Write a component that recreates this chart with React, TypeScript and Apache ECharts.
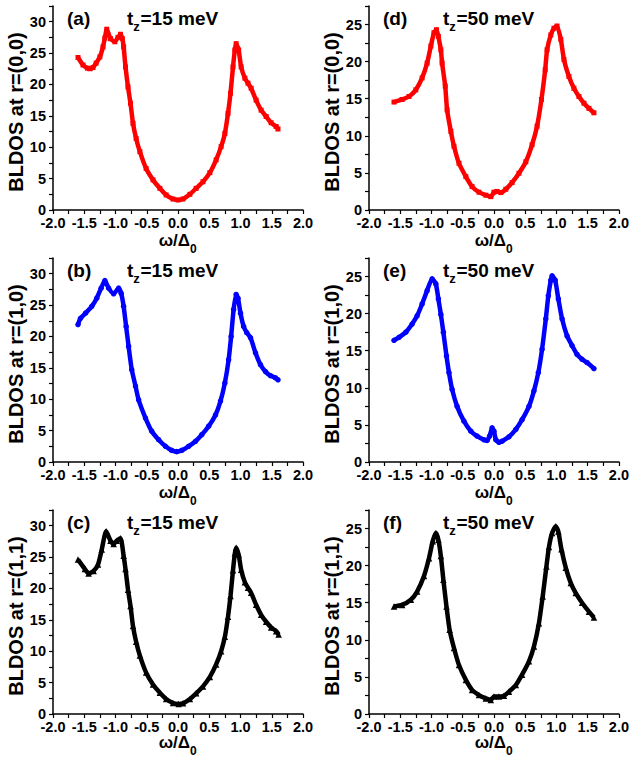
import React, { useEffect, useRef } from "react";
import * as echarts from "echarts";

// (a) r=(0,0), tz=15 meV
const panelA: [number, number][] = [
  [-1.6, 24.3], [-1.52, 23.1], [-1.45, 22.6], [-1.41, 22.5], [-1.36, 22.7], [-1.31, 23.4],
  [-1.25, 24.4], [-1.2, 26.0], [-1.17, 27.4], [-1.14, 28.8], [-1.08, 27.3], [-1.01, 26.8],
  [-0.96, 27.5], [-0.92, 28.0], [-0.89, 27.3], [-0.87, 26.0], [-0.84, 22.8], [-0.8, 19.6],
  [-0.76, 17.0], [-0.72, 13.8], [-0.67, 11.4], [-0.61, 9.3], [-0.51, 6.6], [-0.4, 4.8],
  [-0.29, 3.45], [-0.19, 2.4], [-0.08, 1.75], [0, 1.6], [0.08, 1.75], [0.19, 2.5],
  [0.29, 3.45], [0.4, 4.5], [0.51, 5.95], [0.61, 8.0], [0.69, 10.1], [0.75, 12.2],
  [0.8, 15.4], [0.84, 18.6], [0.88, 22.8], [0.91, 25.5], [0.93, 26.5], [0.97, 25.5],
  [1.01, 22.8], [1.07, 21.0], [1.12, 20.2], [1.17, 19.4], [1.25, 17.5], [1.33, 15.9],
  [1.41, 14.9], [1.49, 13.9], [1.57, 13.3], [1.6, 12.9],
];

// (b) r=(1,0), tz=15 meV
const panelB: [number, number][] = [
  [-1.6, 21.9], [-1.56, 22.9], [-1.48, 23.7], [-1.38, 24.8], [-1.3, 26.1], [-1.23, 27.7],
  [-1.17, 28.9], [-1.11, 27.7], [-1.03, 26.8], [-0.95, 27.7], [-0.91, 26.9], [-0.87, 24.8],
  [-0.83, 21.6], [-0.79, 18.4], [-0.74, 14.7], [-0.68, 12.1], [-0.63, 9.9], [-0.52, 7.0],
  [-0.42, 4.9], [-0.31, 3.55], [-0.2, 2.5], [-0.1, 1.85], [-0.02, 1.65], [0.06, 1.85],
  [0.17, 2.5], [0.28, 3.3], [0.38, 4.35], [0.49, 5.7], [0.6, 7.5], [0.68, 9.7],
  [0.75, 12.6], [0.81, 16.3], [0.85, 20.0], [0.89, 24.3], [0.93, 26.7], [0.96, 26.1],
  [1.0, 23.7], [1.05, 21.6], [1.1, 20.6], [1.16, 19.8], [1.24, 17.4], [1.32, 15.5],
  [1.4, 14.4], [1.48, 13.75], [1.56, 13.4], [1.6, 13.1],
];

// (c) r=(1,1), tz=15 meV
const panelC: [number, number][] = [
  [-1.6, 24.6], [-1.49, 23.1], [-1.43, 22.4], [-1.35, 22.8], [-1.28, 23.8], [-1.22, 26.2],
  [-1.15, 29.1], [-1.08, 27.6], [-1.03, 27.1], [-0.98, 27.6], [-0.92, 28.0], [-0.87, 25.2],
  [-0.84, 23.1], [-0.8, 19.8], [-0.76, 17.2], [-0.72, 14.0], [-0.67, 11.5], [-0.61, 9.3],
  [-0.51, 6.6], [-0.4, 4.7], [-0.29, 3.4], [-0.19, 2.4], [-0.08, 1.75], [0.01, 1.6],
  [0.08, 1.7], [0.19, 2.4], [0.29, 3.3], [0.4, 4.4], [0.51, 5.9], [0.61, 7.9],
  [0.69, 10.0], [0.75, 12.3], [0.8, 15.5], [0.84, 18.8], [0.88, 22.9], [0.91, 25.6],
  [0.93, 26.5], [0.97, 25.4], [1.01, 23.0], [1.07, 21.0], [1.12, 20.1], [1.17, 19.3],
  [1.25, 17.4], [1.33, 15.8], [1.41, 14.7], [1.49, 13.8], [1.57, 13.2], [1.61, 12.65],
];

// (d) r=(0,0), tz=50 meV
const panelD: [number, number][] = [
  [-1.6, 14.55], [-1.47, 14.9], [-1.36, 15.3], [-1.25, 16.2], [-1.15, 17.8], [-1.07, 19.8],
  [-1.01, 22.1], [-0.96, 23.9], [-0.92, 24.3], [-0.89, 23.4], [-0.85, 21.6], [-0.83, 19.8],
  [-0.78, 16.7], [-0.75, 13.5], [-0.69, 10.6], [-0.64, 8.6], [-0.56, 6.3], [-0.45, 4.5],
  [-0.35, 3.15], [-0.24, 2.4], [-0.13, 2.0], [-0.05, 1.8], [0, 2.4], [0.05, 2.5],
  [0.11, 2.35], [0.19, 2.8], [0.29, 3.7], [0.4, 4.95], [0.51, 6.5], [0.61, 8.8],
  [0.69, 11.3], [0.76, 14.9], [0.82, 18.9], [0.85, 21.6], [0.91, 23.6], [0.96, 24.5],
  [1.01, 24.8], [1.07, 23.0], [1.12, 20.3], [1.2, 18.0], [1.28, 16.4], [1.36, 15.3],
  [1.44, 14.4], [1.52, 13.7], [1.6, 13.1],
];

// (e) r=(1,0), tz=50 meV
const panelE: [number, number][] = [
  [-1.6, 16.4], [-1.52, 16.8], [-1.41, 17.5], [-1.31, 18.6], [-1.23, 19.7], [-1.15, 21.3],
  [-1.07, 23.1], [-0.99, 24.7], [-0.93, 24.0], [-0.89, 22.0], [-0.85, 19.9], [-0.81, 17.5],
  [-0.76, 14.3], [-0.72, 12.05], [-0.67, 9.8], [-0.59, 7.5], [-0.48, 5.5], [-0.37, 4.15],
  [-0.27, 3.5], [-0.16, 3.0], [-0.11, 2.9], [-0.07, 3.5], [-0.03, 4.6], [0, 4.15],
  [0.03, 3.0], [0.08, 2.65], [0.13, 2.8], [0.24, 3.4], [0.35, 4.4], [0.45, 5.7],
  [0.56, 7.5], [0.64, 9.6], [0.71, 12.05], [0.77, 15.2], [0.83, 19.3], [0.87, 22.4],
  [0.91, 24.5], [0.93, 25.1], [0.98, 24.5], [1.03, 22.0], [1.09, 19.3], [1.17, 17.0],
  [1.25, 15.7], [1.33, 14.5], [1.41, 13.85], [1.49, 13.4], [1.6, 12.6],
];

// (f) r=(1,1), tz=50 meV
const panelF: [number, number][] = [
  [-1.6, 14.5], [-1.47, 14.7], [-1.33, 15.4], [-1.23, 16.5], [-1.12, 18.6], [-1.04, 21.0],
  [-0.98, 23.3], [-0.93, 24.4], [-0.89, 23.5], [-0.85, 21.3], [-0.81, 18.1], [-0.76, 14.5],
  [-0.71, 11.35], [-0.64, 8.9], [-0.56, 6.6], [-0.45, 4.6], [-0.35, 3.25], [-0.24, 2.55],
  [-0.13, 2.1], [-0.05, 1.9], [0, 2.35], [0.08, 2.35], [0.16, 2.45], [0.24, 3.0],
  [0.35, 3.9], [0.45, 5.3], [0.56, 7.1], [0.64, 9.1], [0.72, 12.25], [0.78, 15.85],
  [0.84, 19.9], [0.88, 22.5], [0.93, 24.4], [0.99, 25.3], [1.03, 24.6], [1.08, 22.2],
  [1.15, 19.7], [1.23, 17.65], [1.31, 16.3], [1.41, 15.0], [1.52, 13.8], [1.6, 13.0],
];

const panelData = [panelA, panelB, panelC, panelD, panelE, panelF];
const panelTags = ["(a)", "(b)", "(c)", "(d)", "(e)", "(f)"];
const yNames = [
  "BLDOS at r=(0,0)", "BLDOS at r=(1,0)", "BLDOS at r=(1,1)",
  "BLDOS at r=(0,0)", "BLDOS at r=(1,0)", "BLDOS at r=(1,1)",
];
const tzTexts = ["=15 meV", "=15 meV", "=15 meV", "=50 meV", "=50 meV", "=50 meV"];
const yMaxes = [32.5, 32.5, 32.5, 27.5, 27.5, 27.5];
const colors = ["#ff0000", "#0000ff", "#000000", "#ff0000", "#0000ff", "#000000"];
const symbols = ["rect", "circle", "triangle", "rect", "circle", "triangle"];
const symbolSizes = [5, 5.5, 6.5, 5, 5.5, 6.5];

const FONT = 'Arial, "Liberation Sans", Helvetica, sans-serif';

export default function App() {
  const ref = useRef<HTMLDivElement>(null);
  useEffect(() => {
    document.body.style.margin = "0";
    if (!ref.current) return;
    const chart = echarts.init(ref.current, null, { renderer: "svg" });

    const colLeft = [53, 369];
    const rowTop = [6, 258, 510];
    const gw = 250;
    const gh = 204;
    const xNameOffset = [30, 30, 28];

    const grids: any[] = [];
    const xAxes: any[] = [];
    const yAxes: any[] = [];
    const series: any[] = [];
    const graphics: any[] = [];

    for (let i = 0; i < 6; i++) {
      const col = i < 3 ? 0 : 1;
      const row = i % 3;
      const gl = colLeft[col];
      const gt = rowTop[row];
      grids.push({ left: gl, top: gt, width: gw, height: gh, containLabel: false });
      xAxes.push({
        gridIndex: i,
        type: "value",
        min: -2,
        max: 2,
        interval: 0.25,
        axisLine: { show: true, onZero: false, lineStyle: { color: "#000", width: 1.5 } },
        axisTick: { show: true, length: 4, lineStyle: { color: "#000", width: 1.2 } },
        axisLabel: {
          margin: 5,
          fontSize: 14.5,
          fontWeight: "bold",
          fontFamily: FONT,
          color: "#000",
          formatter: (v: number) =>
            Math.abs(v * 2 - Math.round(v * 2)) < 1e-9 ? v.toFixed(1) : "",
        },
        splitLine: { show: false },
      });
      yAxes.push({
        gridIndex: i,
        type: "value",
        min: 0,
        max: yMaxes[i],
        interval: 2.5,
        axisLine: { show: true, onZero: false, lineStyle: { color: "#000", width: 1.5 } },
        axisTick: { show: true, length: 4, lineStyle: { color: "#000", width: 1.2 } },
        axisLabel: {
          margin: 7,
          fontSize: 14.5,
          fontWeight: "bold",
          fontFamily: FONT,
          color: "#000",
          formatter: (v: number) => (Math.abs(v % 5) < 1e-9 ? String(v) : ""),
        },
        splitLine: { show: false },
      });
      series.push({
        type: "line",
        xAxisIndex: i,
        yAxisIndex: i,
        data: panelData[i],
        smooth: 0.2,
        showSymbol: true,
        showAllSymbol: true,
        symbol: symbols[i],
        symbolSize: symbolSizes[i],
        lineStyle: { color: colors[i], width: 4.5 },
        itemStyle: { color: colors[i] },
        silent: true,
        emphasis: { disabled: true },
      });

      // panel tag
      graphics.push({
        type: "text",
        x: gl + 14,
        y: gt + 12,
        style: {
          text: panelTags[i],
          fontSize: 19,
          fontWeight: "bold",
          fontFamily: FONT,
          fill: "#000",
          align: "left",
          verticalAlign: "middle",
        },
      });
      // t_z=.. meV
      const tx = gl + 74;
      graphics.push({
        type: "text",
        x: tx,
        y: gt + 12,
        style: { text: "t", fontSize: 19, fontWeight: "bold", fontFamily: FONT, fill: "#000", align: "left", verticalAlign: "middle" },
      });
      graphics.push({
        type: "text",
        x: tx + 6.3,
        y: gt + 20,
        style: { text: "z", fontSize: 13, fontWeight: "bold", fontFamily: FONT, fill: "#000", align: "left", verticalAlign: "middle" },
      });
      graphics.push({
        type: "text",
        x: tx + 13.5,
        y: gt + 12,
        style: { text: tzTexts[i], fontSize: 19, fontWeight: "bold", fontFamily: FONT, fill: "#000", align: "left", verticalAlign: "middle" },
      });
      // y name
      graphics.push({
        type: "text",
        x: gl - 37,
        y: gt + gh / 2 + 4,
        rotation: Math.PI / 2,
        style: {
          text: yNames[i],
          fontSize: 20,
          fontWeight: "bold",
          fontFamily: FONT,
          fill: "#000",
          align: "center",
          verticalAlign: "middle",
        },
      });
      // x name  ω/Δ0
      const cx = gl + gw / 2;
      const xy = gt + gh + xNameOffset[row];
      graphics.push({
        type: "text",
        x: cx + 12,
        y: xy,
        style: { text: "ω/Δ", fontSize: 17, fontWeight: "bold", fontFamily: FONT, fill: "#000", align: "right", verticalAlign: "middle" },
      });
      graphics.push({
        type: "text",
        x: cx + 12,
        y: xy + 9,
        style: { text: "0", fontSize: 12, fontWeight: "bold", fontFamily: FONT, fill: "#000", align: "left", verticalAlign: "middle" },
      });
    }

    chart.setOption({
      animation: false,
      backgroundColor: "#ffffff",
      grid: grids,
      xAxis: xAxes,
      yAxis: yAxes,
      series,
      graphic: graphics,
    });

    return () => chart.dispose();
  }, []);

  return <div ref={ref} style={{ width: 632, height: 760 }} />;
}
